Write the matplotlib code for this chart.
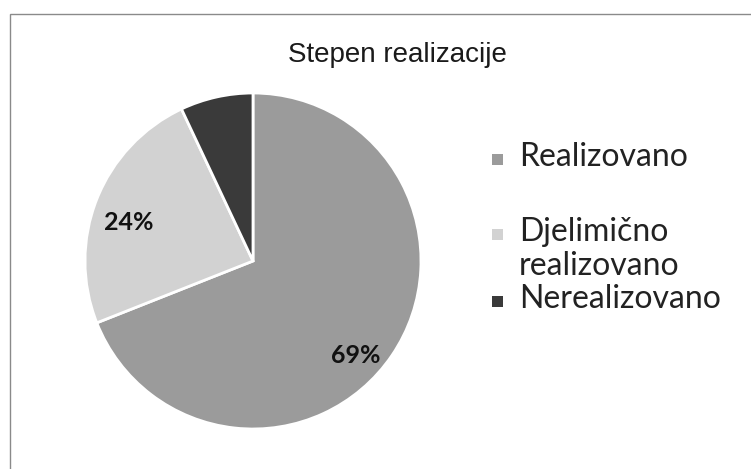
import matplotlib.pyplot as plt
from matplotlib.patches import Rectangle

# Podaci
naslov = "Stepen realizacije"
kategorije = ["Realizovano", "Djelimično\nrealizovano", "Nerealizovano"]
procenti = [69, 24, 7]
boje = ["#9b9b9b", "#d2d2d2", "#3a3a3a"]

fig = plt.figure(figsize=(7.51, 4.69), dpi=100)

# okvir grafikona
fig.add_artist(Rectangle((10 / 751, -0.05), 1.0, (469 - 14) / 469 + 0.05,
                         transform=fig.transFigure, fill=False,
                         edgecolor="#8a8a8a", linewidth=1.0))

fig.text(397 / 751, 1 - 55 / 469, naslov, ha="center", va="center",
         fontsize=20, family="Liberation Sans", color="#1a1a1a")

ax = fig.add_axes([85 / 751, (469 - 429) / 469, 336 / 751, 336 / 469])
wedges, tekst, auto = ax.pie(
    procenti, colors=boje, startangle=90, counterclock=False,
    radius=1.0, pctdistance=0.8,
    autopct=lambda p: f"{p:.0f}%" if p > 10 else "",
    wedgeprops={"edgecolor": "white", "linewidth": 2},
    textprops={"fontsize": 18, "fontweight": "bold", "family": "Lato",
               "color": "#111111"},
)
# pozicije oznaka kao u Excelu (best fit)
auto[0].set_position((0.61, -0.56))
auto[1].set_position((-0.74, 0.23))
ax.set_xlim(-1, 1)
ax.set_ylim(-1, 1)
ax.set_aspect("equal")

# legenda
leg_y = [159, 234, 301]
for w, lab, y in zip(wedges, kategorije, leg_y):
    fig.add_artist(Rectangle((492 / 751, 1 - (y + 6) / 469), 11 / 751, 11 / 469,
                             transform=fig.transFigure,
                             facecolor=w.get_facecolor(), edgecolor="none"))
    fig.text(519 / 751, 1 - (y - 17) / 469, lab, ha="left", va="top",
             fontsize=23, family="Lato", color="#222222", linespacing=1.15)

fig.savefig("out.png", dpi=100)
